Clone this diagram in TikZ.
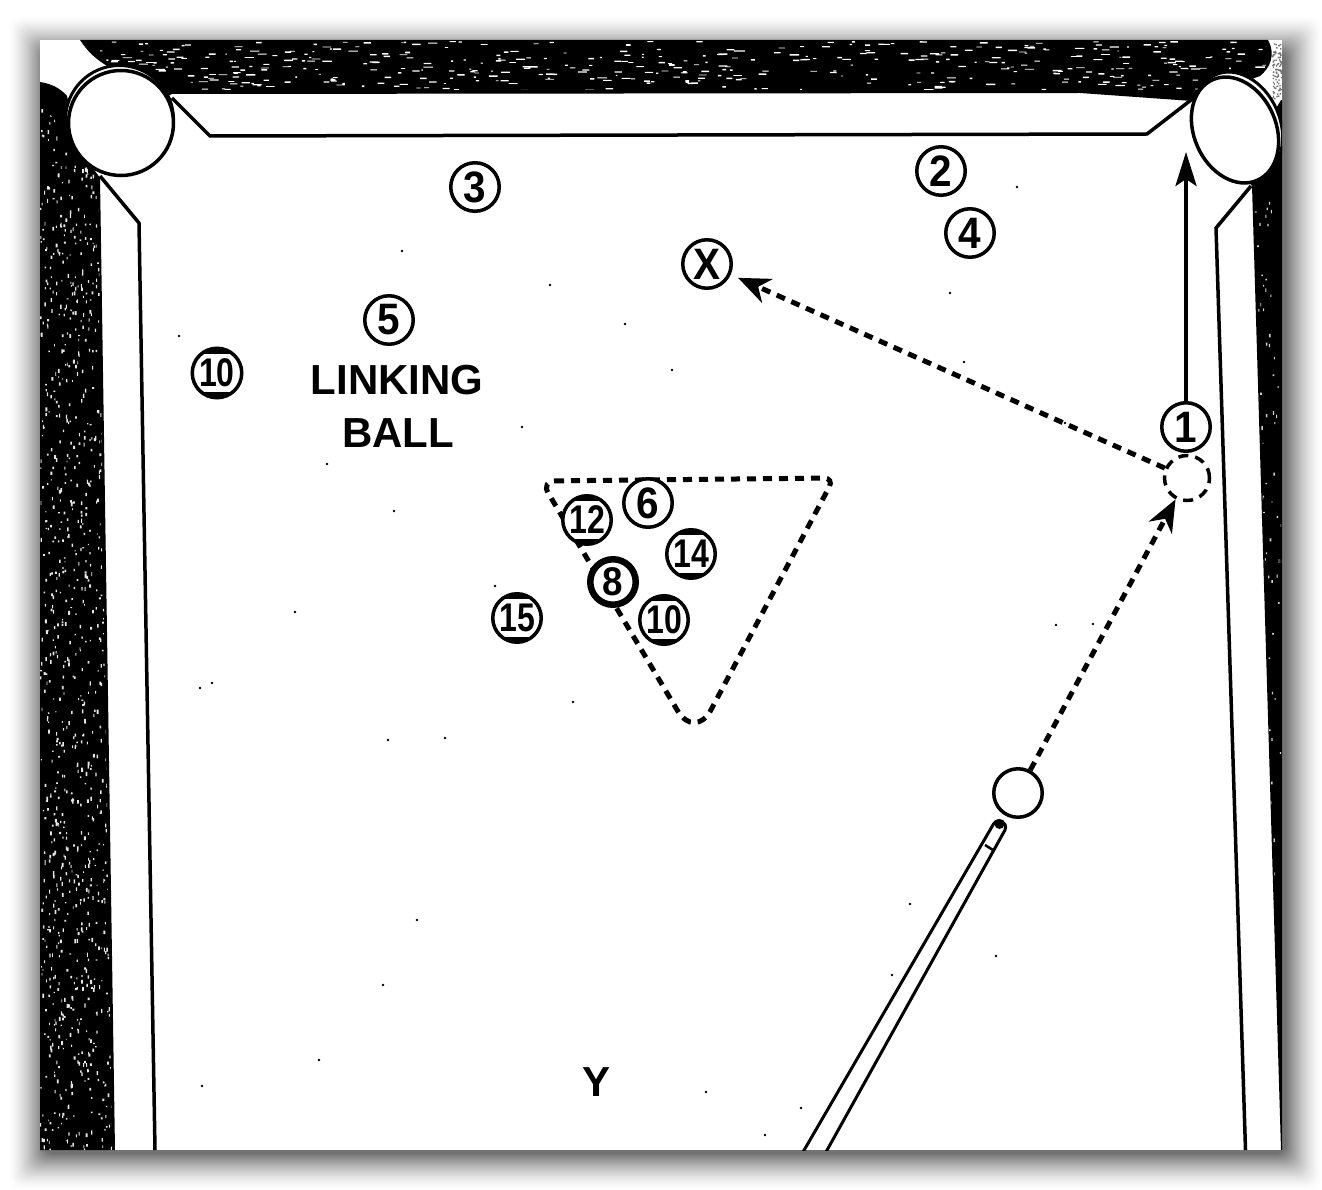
\documentclass[tikz,border=0pt]{standalone}
\usepackage{fontspec}
\setmainfont{Liberation Sans}
\newfontfamily\ballone[FakeStretch=0.92]{Liberation Sans}
\newfontfamily\balltwo[FakeStretch=0.80]{Liberation Sans}
\usetikzlibrary{arrows.meta}
\tikzset{
  ball/.style={circle,draw=black,fill=white,line width=3.5pt,inner sep=0pt,minimum size=48.5pt,font=\ballone\bfseries\fontsize{44}{44}\selectfont},
  numball/.style={ball,font=\balltwo\bfseries\fontsize{40}{40}\selectfont},
  stripe/.style={numball,path picture={
    \fill[black] (path picture bounding box.north west) rectangle ([yshift=-5.5pt]path picture bounding box.north east);
    \fill[black] (path picture bounding box.south west) rectangle ([yshift=5.5pt]path picture bounding box.south east);}},
  eightball/.style={ball,line width=6.5pt,minimum size=45.5pt,font=\ballone\bfseries\fontsize{40}{40}\selectfont},
  ghost/.style={circle,draw=black,fill=white,line width=3.5pt,inner sep=0pt,minimum size=45pt,dash pattern=on 10pt off 7pt},
  shot/.style={line width=5pt,dash pattern=on 9pt off 7pt,-{Stealth[length=32pt,width=26pt,inset=10pt]}},
  rail/.style={line width=3.5pt,line join=miter},
  tabletext/.style={font=\bfseries\fontsize{42}{42}\selectfont,inner sep=0pt},
}
\begin{document}
\begin{tikzpicture}[x=1pt,y=-1pt]
\useasboundingbox (0,0) rectangle (1322,1190);
\fill[white] (0,0) rectangle (1322,1190);
% soft shadow, opaque greys from the outside in
\foreach \e in {36,35,...,0}{
  \pgfmathsetmacro{\shade}{55*(1-\e/36)^1.5}
  \fill[black!\shade!white,rounded corners=10pt] ({44-\e},{52-\e}) rectangle ({1286+\e},{1154+\e});
}
\fill[white] (40,40) rectangle (1282,1150);
\begin{scope}
\clip (40,40) rectangle (1282,1150);
% black rails
\path[fill=black] (80,40) .. controls (88,52) and (95,58) .. (104,64)
   -- (160,100) -- (172,94) -- (1080,93) -- (1192,101) -- (1235,85) -- (1260,76)
   .. controls (1270,68) and (1276,55) .. (1268,40) -- cycle;
\path[fill=black] (40,82) .. controls (52,84) and (60,88) .. (67,96)
   -- (80,150) -- (100,178) -- (115,1150) -- (40,1150) -- cycle;
\path[fill=black] (1240,170) -- (1281,100) -- (1282,100) -- (1282,1150) -- (1281,1150) -- (1252,186) -- cycle;
% speckle
\pgfmathsetseed{4242}
\begin{scope}
\clip (100,42) rectangle (1266,90);
\fill[white] \foreach \i in {1,...,460}{
  ({90+rnd*1180},{41+rnd*50}) coordinate (sp) (sp) rectangle ++({1.5+rnd*8},{0.7+rnd*0.9})
};
\end{scope}
\begin{scope}
\clip (40,100) -- (98,180) -- (112,1150) -- (40,1150) -- cycle;
\fill[black!10] \foreach \i in {1,...,1100}{
  ({40+rnd*76},{100+rnd*1050}) coordinate (sp) (sp) rectangle ++({0.8+rnd*1.2},{1.2+rnd*3})
};
\end{scope}
\begin{scope}
\clip (1254,190) -- (1281,190) -- (1281,1150) -- cycle;
\fill[black!18] \foreach \i in {1,...,90}{
  ({1254+rnd*27},{190+rnd*700}) coordinate (sp) (sp) rectangle ++({0.8+rnd*1},{1.2+rnd*2.5})
};
\end{scope}
\fill[black!55] \foreach \i in {1,...,90}{
  ({1272+rnd*9},{42+rnd*58}) coordinate (sp) (sp) rectangle ++(1.4,1.4)
};
% pockets
\draw[line width=3pt,fill=white] (119.5,119.5) circle [radius=54pt];
\draw[line width=3.5pt,fill=white] (121,123) circle [radius=52.5pt];
\draw[line width=3pt,fill=white] (1238,126) ellipse [x radius=42pt,y radius=56pt,rotate=24];
\draw[line width=3.5pt,fill=white] (1235,130) ellipse [x radius=41pt,y radius=55pt,rotate=24];
% cushions
\draw[rail] (172,98) -- (210,136) -- (1147,134) -- (1191,100);
\draw[rail] (100,176) -- (139,223) -- (155,1150);
\draw[rail] (1251,186) -- (1216,228) -- (1245.5,1150);
% cue
\draw[line width=3pt] (803,1152) -- (993.5,824) .. controls (998,817) and (1008,822) .. (1005,830) -- (826,1152);
\draw[line width=2.5pt] (985,845) -- (993,850);
\fill[black] (999.5,824) circle [radius=5pt];
\end{scope}
% scan specks
\fill[black] \foreach \p in {(402,251),(550,285),(625,324),(672,370),(522,427),(327,464),(394,511),(179,336),(212,683),(200,688),(495,586),(573,702),(445,738),(295,612),(388,740),(1017,187),(950,293),(1065,423),(964,362),(1093,624),(1056,625),(910,904),(996,956),(892,975),(417,920),(383,985),(319,1060),(202,1086),(706,1092),(765,1135),(801,1108)}{
  \p circle [radius=1.3pt]
};
% triangle rack
\draw[line width=5pt,dash pattern=on 9pt off 7pt,rounded corners=10pt] (541,481) -- (834,478) [rounded corners=34pt] -- (695,740) [rounded corners=14pt] -- cycle;
% balls
\node[ball] (ball3) at (475,187) {3};
\node[ball] (ball2) at (941,171) {2};
\node[ball] (ball4) at (970,233) {4};
\node[ball] (ballX) at (707,264) {X};
\node[ball] (ball5) at (389,320) {5};
\node[stripe,minimum size=49.5pt] (ball10a) at (217,373) {10};
\node[tabletext] (linking) at (397,380) {LINKING};
\node[tabletext] (linkball) at (398,433) {BALL};
\node[ball] (ball6) at (648,503) {6};
\node[stripe] (ball12) at (587,520) {12};
\node[stripe] (ball14) at (691,554) {14};
\node[eightball] (ball8) at (613,582) {8};
\node[stripe] (ball10b) at (664,620) {10};
\node[stripe] (ball15) at (517,618) {15};
\node[tabletext] (y) at (596,1082) {Y};
% shot
\node[ghost] (ghost) at (1187,478) {};
\node[ball] (ball1) at (1186,427) {1};
\node[circle,draw=black,fill=white,line width=3.5pt,inner sep=0pt,minimum size=48.5pt] (cue) at (1018,793) {};
\coordinate (pocketaim) at (1186,152);
\draw[line width=4pt,-{Stealth[length=34pt,width=21pt,inset=7pt]}] (ball1) -- (pocketaim);
\draw[shot] (cue) -- (ghost);
\draw[shot,shorten >=8pt] (ghost) -- (ballX);
\end{tikzpicture}
\end{document}
